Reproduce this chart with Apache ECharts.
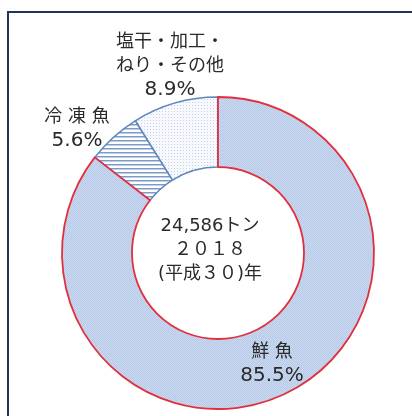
<!DOCTYPE html>
<html>
<head>
<meta charset="utf-8">
<script src="https://cdn.jsdelivr.net/npm/echarts@6/dist/echarts.min.js"></script>
<style>
  html, body { margin: 0; padding: 0; background: #fff; }
  #chart { width: 412px; height: 416px; }
</style>
</head>
<body>
<div id="chart"></div>
<script>
// listed counter-clockwise from 12 o'clock so the red 鮮魚 slice is drawn last
const categories = ['塩干・加工・\nねり・その他', '冷 凍 魚', '鮮 魚']
const shares = [8.9, 5.6, 85.5]
const centerLines = ['24,586トン', '２０１８', '(平成３０)年']

// small tile patterns like the original hatching
function makeTile(size, draw) {
  const c = document.createElement('canvas')
  c.width = size
  c.height = size
  draw(c.getContext('2d'))
  return c
}

const dotBlue = makeTile(2, (ctx) => {
  ctx.fillStyle = '#c9d8ef'
  ctx.fillRect(0, 0, 2, 2)
  ctx.fillStyle = '#b8cbe8'
  ctx.fillRect(0, 0, 1, 1)
  ctx.fillRect(1, 1, 1, 1)
})

const stripes = makeTile(4, (ctx) => {
  ctx.fillStyle = '#ffffff'
  ctx.fillRect(0, 0, 4, 4)
  ctx.fillStyle = '#7b9bcc'
  ctx.fillRect(0, 0, 4, 1.5)
})

const dotsLight = makeTile(3, (ctx) => {
  ctx.fillStyle = '#f7f9fd'
  ctx.fillRect(0, 0, 3, 3)
  ctx.fillStyle = '#c3d2ea'
  ctx.fillRect(0, 0, 1, 1)
})

const fills = [dotsLight, stripes, dotBlue]
const borders = ['#5f86bf', '#5f86bf', '#e0303e']
const labelPos = [[170, 66], [77, 129], [272, 364]]
const FONT = '"DejaVu Sans", "Noto Sans CJK JP", sans-serif'

const chart = echarts.init(document.getElementById('chart'))

chart.setOption({
  animation: false,
  textStyle: { fontFamily: FONT },
  graphic: [
    {
      type: 'polyline',
      shape: { points: [[8, 416], [8, 12], [412, 12]] },
      style: { stroke: '#1f3656', lineWidth: 2, fill: null },
      z: 10,
    },
    {
      type: 'text',
      z: 10,
      style: {
        x: 210,
        y: 250,
        text: centerLines.join('\n'),
        align: 'center',
        verticalAlign: 'middle',
        fontSize: 18,
        lineHeight: 24,
        fill: '#2a2a2a',
        fontFamily: FONT,
      },
    },
  ],
  series: [
    {
      type: 'pie',
      center: [218, 253],
      radius: [86, 156],
      startAngle: 90,
      clockwise: false,
      silent: true,
      data: categories.map((name, i) => ({
        name,
        value: shares[i],
        itemStyle: {
          color: { image: fills[i], repeat: 'repeat' },
          borderColor: borders[i],
          borderWidth: i === 2 ? 1.8 : 1.5,
        },
      })),
      label: {
        show: true,
        position: 'inside',
        formatter: (p) =>
          p.name.split('\n').map((s) => '{n|' + s + '}').join('\n') +
          '\n{v|' + p.value.toFixed(1) + '%}',
        color: '#2a2a2a',
        align: 'center',
        fontFamily: FONT,
        rich: {
          n: { fontSize: 18, lineHeight: 24, color: '#2a2a2a', fontFamily: FONT },
          v: { fontSize: 20, lineHeight: 24, color: '#2a2a2a', fontFamily: FONT },
        },
      },
      labelLayout: (p) => ({
        x: labelPos[p.dataIndex][0],
        y: labelPos[p.dataIndex][1],
        align: 'center',
        verticalAlign: 'middle',
      }),
      labelLine: { show: false },
    },
  ],
})
</script>
</body>
</html>
